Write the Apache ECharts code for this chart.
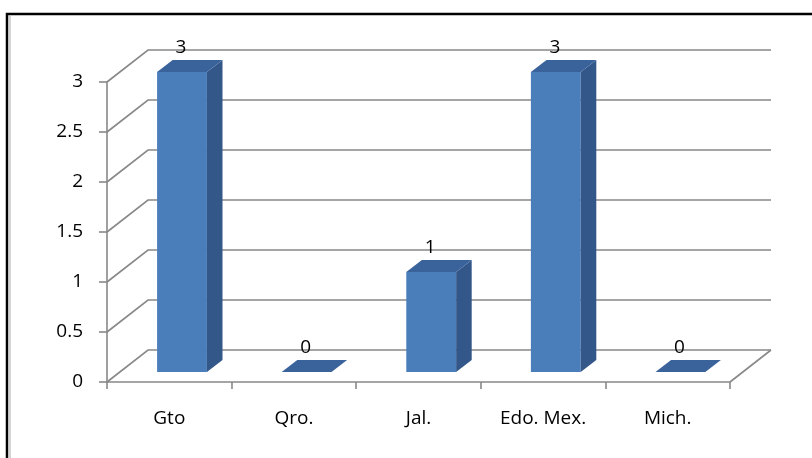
<!DOCTYPE html>
<html>
<head>
<meta charset="utf-8">
<script src="https://cdn.jsdelivr.net/npm/echarts@6/dist/echarts.min.js"></script>
<style>
  html, body { margin: 0; padding: 0; background: #fff; }
  #chart { width: 812px; height: 458px; }
</style>
</head>
<body>
<div id="chart"></div>
<script>
// States and counts
const categories = ['Gto', 'Qro.', 'Jal.', 'Edo. Mex.', 'Mich.'];
const counts = [3, 0, 1, 3, 0];
const yTicks = [0, 0.5, 1, 1.5, 2, 2.5, 3];

// Depth of the 3D box (pixel offset from front plane to back wall)
const DX = 41, DY = -32;
// Bar occupies this slice of the depth
const F1 = 0.31, F2 = 0.69;

const GRID_COLOR = '#888888';
const FONT = '"Open Sans"';
const FONT_SIZE = 19;

const chart = echarts.init(document.getElementById('chart'), null, { renderer: 'canvas' });

function renderWalls(params, api) {
  const cs = params.coordSys;
  const v = api.value(1);
  const y = api.coord([0, v])[1];
  const x0 = cs.x, x1 = cs.x + cs.width;
  const children = [{
    type: 'polyline',
    shape: { points: [[x0, y], [x0 + DX, y + DY], [x1 + DX, y + DY]] },
    style: { stroke: GRID_COLOR, lineWidth: 1.6, fill: null }
  }];
  if (v === 0) {
    children.push({
      type: 'line',
      shape: { x1: x1, y1: y, x2: x1 + DX, y2: y + DY },
      style: { stroke: GRID_COLOR, lineWidth: 1.6 }
    });
  }
  return { type: 'group', children: children };
}

function renderBar(params, api) {
  const idx = api.value(0), val = api.value(1);
  const c = api.coord([idx, val]);
  const b = api.coord([idx, 0]);
  const band = api.size([1, 0])[0];
  const w = band * 0.4;
  const ox = DX * F1, oy = DY * F1;
  const dx = DX * (F2 - F1), dy = DY * (F2 - F1);
  const xl = c[0] - w / 2 + ox, xr = xl + w;
  const yt = c[1] + oy, yb = b[1] + oy;
  const children = [];
  if (yb - yt > 0.5) {
    children.push({
      type: 'rect',
      shape: { x: xl, y: yt, width: w, height: yb - yt },
      style: { fill: '#4a7ebb' }
    });
    children.push({
      type: 'polygon',
      shape: { points: [[xr, yt], [xr + dx, yt + dy], [xr + dx, yb + dy], [xr, yb]] },
      style: { fill: '#34578a' }
    });
  }
  children.push({
    type: 'polygon',
    shape: { points: [[xl, yt], [xr, yt], [xr + dx, yt + dy], [xl + dx, yt + dy]] },
    style: { fill: '#3a639c' }
  });
  children.push({
    type: 'text',
    style: {
      x: c[0] + ox - 1, y: yt + dy - 12,
      text: String(val),
      fill: '#000', font: FONT_SIZE + 'px ' + FONT,
      align: 'center', verticalAlign: 'middle'
    }
  });
  return { type: 'group', children: children };
}

chart.setOption({
  backgroundColor: '#fff',
  animation: false,
  graphic: [
    {
      type: 'rect', z: -10,
      shape: { x: 7, y: 14, width: 900, height: 600 },
      style: { fill: null, stroke: '#000', lineWidth: 2.5 }
    },
    {
      type: 'line', z: -10,
      shape: { x1: 10, y1: 16, x2: 10, y2: 458 },
      style: { stroke: '#c4c4c4', lineWidth: 1.5 }
    }
  ],
  grid: { left: 107, right: 82, top: 82, bottom: 76 },
  xAxis: {
    type: 'category',
    data: categories,
    boundaryGap: true,
    axisLine: { lineStyle: { color: GRID_COLOR, width: 1.6 } },
    axisTick: { show: true, length: 7, lineStyle: { color: GRID_COLOR, width: 1.6 } },
    axisLabel: { color: '#000', fontFamily: FONT, fontSize: FONT_SIZE, margin: 27 },
    splitLine: { show: false }
  },
  yAxis: {
    type: 'value',
    min: 0, max: 3, interval: 0.5,
    axisLine: { show: true, lineStyle: { color: GRID_COLOR, width: 1.6 } },
    axisTick: { show: true, length: 8, lineStyle: { color: GRID_COLOR, width: 1.6 } },
    axisLabel: { color: '#000', fontFamily: FONT, fontSize: FONT_SIZE, margin: 24 },
    splitLine: { show: false }
  },
  series: [
    {
      type: 'custom',
      z: 1,
      silent: true,
      renderItem: renderWalls,
      encode: { x: 0, y: 1 },
      data: yTicks.map(function (v) { return [0, v]; })
    },
    {
      type: 'custom',
      z: 3,
      renderItem: renderBar,
      encode: { x: 0, y: 1 },
      data: counts.map(function (v, i) { return [i, v]; })
    }
  ]
});
</script>
</body>
</html>
